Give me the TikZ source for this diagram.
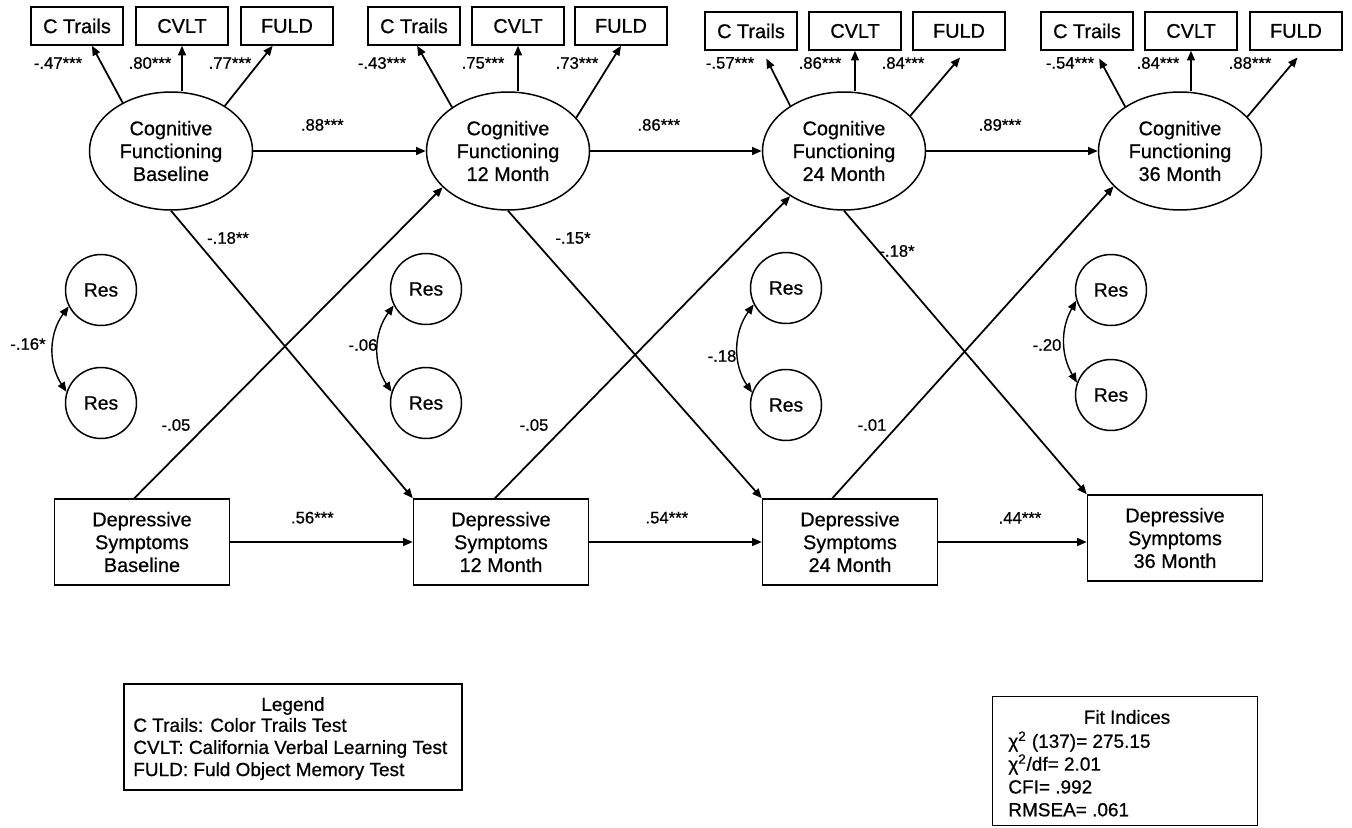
\documentclass[tikz,border=0pt]{standalone}
\usepackage{fontspec}
\setmainfont{Liberation Sans}[BoldFont=Liberation Sans, BoldFeatures={FakeBold=0.7}]
\usetikzlibrary{shapes.geometric,arrows.meta}

\begin{document}
\begin{tikzpicture}[x=0.02cm,y=-0.02cm]
		\useasboundingbox (0,0) rectangle (1352,828);
		\tikzset{obs/.style = {draw, line width=0.85pt, minimum width=1.84cm, minimum height=0.76cm, inner sep=0pt, font=\fontsize{11.3}{13}\selectfont\bfseries},
		latent/.style = {draw, ellipse, line width=0.85pt, minimum width=3.26cm, minimum height=2.36cm, inner sep=0pt, align=center, font=\fontsize{11.3}{13}\selectfont\bfseries},
		dep/.style = {draw, line width=0.85pt, minimum width=3.5cm, minimum height=1.72cm, inner sep=0pt, align=center, font=\fontsize{11.3}{13}\selectfont\bfseries},
		res/.style = {draw, circle, line width=0.85pt, minimum size=1.42cm, inner sep=0pt, font=\fontsize{11}{13}\selectfont\bfseries},
		coef/.style = {inner sep=0pt, font=\fontsize{9.5}{11}\selectfont\bfseries},
		legtxt/.style = {inner sep=0pt, font=\fontsize{10.8}{12.6}\selectfont\bfseries},
		link/.style = {->, line width=1pt},
		>={Triangle[length=5.5pt,width=4.5pt]}}
		% latent factors
		\node[latent] (cf0) at (171,151) {Cognitive\\Functioning\\Baseline};
		\node[latent] (cf12) at (508,151) {Cognitive\\Functioning\\12 Month};
		\node[latent] (cf24) at (844,151) {Cognitive\\Functioning\\24 Month};
		\node[latent] (cf36) at (1180,151) {Cognitive\\Functioning\\36 Month};
		\node[obs] (ct0) at (77,26) {C Trails};
		\node[obs] (cv0) at (182,26) {CVLT};
		\node[obs] (fu0) at (287,26) {FULD};
		\node[obs] (ct12) at (414,26) {C Trails};
		\node[obs] (cv12) at (518,26) {CVLT};
		\node[obs] (fu12) at (621,26) {FULD};
		\node[obs] (ct24) at (751,31) {C Trails};
		\node[obs] (cv24) at (855,31) {CVLT};
		\node[obs] (fu24) at (959,31) {FULD};
		\node[obs] (ct36) at (1087,31) {C Trails};
		\node[obs] (cv36) at (1191,31) {CVLT};
		\node[obs] (fu36) at (1296,31) {FULD};
		\node[dep] (ds0) at (142,542) {Depressive\\Symptoms\\Baseline};
		\node[dep] (ds12) at (501,542) {Depressive\\Symptoms\\12 Month};
		\node[dep] (ds24) at (850,542) {Depressive\\Symptoms\\24 Month};
		\node[dep] (ds36) at (1175,538) {Depressive\\Symptoms\\36 Month};
		\node[res] (ra0) at (101,290) {Res};
		\node[res] (rb0) at (101,403) {Res};
		\node[res] (ra12) at (426,289) {Res};
		\node[res] (rb12) at (426,403) {Res};
		\node[res] (ra24) at (786,288) {Res};
		\node[res] (rb24) at (786,405) {Res};
		\node[res] (ra36) at (1111,290) {Res};
		\node[res] (rb36) at (1111,395) {Res};
		% loadings
		\draw[link] (cf0.135) -- (ct0.-53);
		\draw[link] (cv0.south |- cf0.north) -- (cv0.south);
		\draw[link] (cf0.40) -- (fu0.234);
		\draw[link] (cf12.142) -- (ct12.-81);
		\draw[link] (cv12.south |- cf12.north) -- (cv12.south);
		\draw[link] (cf12.26) -- (fu12.south);
		\draw[link, shorten >=5pt] (cf24.140) -- (ct24.-60);
		\draw[link] (cv24.south |- cf24.north) -- (cv24.south);
		\draw[link, shorten >=5pt] (cf24.28) -- (fu24.-71);
		\draw[link, shorten >=5pt] (cf36.141) -- (ct36.-68);
		\draw[link] (cv36.south |- cf36.north) -- (cv36.south);
		\draw[link, shorten >=5pt] (cf36.27) -- (fu36.-70);
		\node[coef] (l1) at (58,63) {-.47***};
		\node[coef] (l2) at (150,63) {.80***};
		\node[coef] (l3) at (230,63) {.77***};
		\node[coef] (l4) at (382,63) {-.43***};
		\node[coef] (l5) at (483,63) {.75***};
		\node[coef] (l6) at (577,63) {.73***};
		\node[coef] (l7) at (730,63) {-.57***};
		\node[coef] (l8) at (820,63) {.86***};
		\node[coef] (l9) at (903,63) {.84***};
		\node[coef] (l10) at (1070,63) {-.54***};
		\node[coef] (l11) at (1158,63) {.84***};
		\node[coef] (l12) at (1250,63) {.88***};
		% paths
		\draw[link] (cf0) -- (cf12) node[coef, pos=0.4, above=11pt] {.88***};
		\draw[link] (cf12) -- (cf24) node[coef, pos=0.4, above=11pt] {.86***};
		\draw[link] (cf24) -- (cf36) node[coef, pos=0.43, above=11pt] {.89***};
		\draw[link] (ds0) -- (ds12) node[coef, pos=0.45, above=10pt] {.56***};
		\draw[link] (ds12) -- (ds24) node[coef, pos=0.45, above=10pt] {.54***};
		\draw[link] (ds24.east) -- (ds24.east -| ds36.west) node[coef, pos=0.55, above=10pt] {.44***};
		\draw[link] (cf0.south) -- (ds12.north west);
		\draw[link] (cf12.south) -- (ds24.north west);
		\draw[link] (cf24.south) -- (ds36.north west);
		\draw[link] (ds0.100) -- (cf12.209);
		\draw[link] (ds12.98) -- (cf24.220);
		\draw[link] (ds24.112) -- (cf36.208);
		\node[coef] (x1) at (228,238) {-.18**};
		\node[coef] (x2) at (573,238) {-.15*};
		\node[coef] (x3) at (897,251) {-.18*};
		\node[coef] (x4) at (176,425) {-.05};
		\node[coef] (x5) at (534,425) {-.05};
		\node[coef] (x6) at (872,425) {-.01};
		% residual covariances
		\draw[<->, line width=0.8pt] (ra0.207) to[bend right=35] (rb0.162);
		\draw[<->, line width=0.8pt] (ra12.207) to[bend right=35] (rb12.162);
		\draw[<->, line width=0.8pt] (ra24.207) to[bend right=35] (rb24.160);
		\draw[<->, line width=0.8pt] (ra36.197) to[bend right=30] (rb36.160);
		\node[coef] (c1) at (28,344) {-.16*};
		\node[coef] (c2) at (363,345) {-.06};
		\node[coef] (c3) at (722,356) {-.18};
		\node[coef] (c4) at (1047,345) {-.20};
		% boxes
		\node[draw, line width=0.85pt, minimum width=6.76cm, minimum height=2.12cm, inner sep=0pt] (legend) at (293,737) {};
		\node[legtxt] (legtitle) at (293,706) {Legend};
		\node[legtxt, anchor=west, align=left] (legbody) at (133,749) {C Trails: Color Trails Test\\CVLT: California Verbal Learning Test\\FULD: Fuld Object Memory Test};
		\node[draw, line width=0.85pt, minimum width=5.3cm, minimum height=2.58cm, inner sep=0pt] (fitbox) at (1125,761) {};
		\node[legtxt] (fittitle) at (1127,717) {Fit Indices};
		\node[legtxt, anchor=west, align=left, font=\fontsize{10.8}{13}\selectfont\bfseries] (fitbody) at (1008,774) {χ\textsuperscript{2} (137)= 275.15\\χ\textsuperscript{2}/df= 2.01\\CFI= .992\\RMSEA= .061};
	\end{tikzpicture}
\end{document}
